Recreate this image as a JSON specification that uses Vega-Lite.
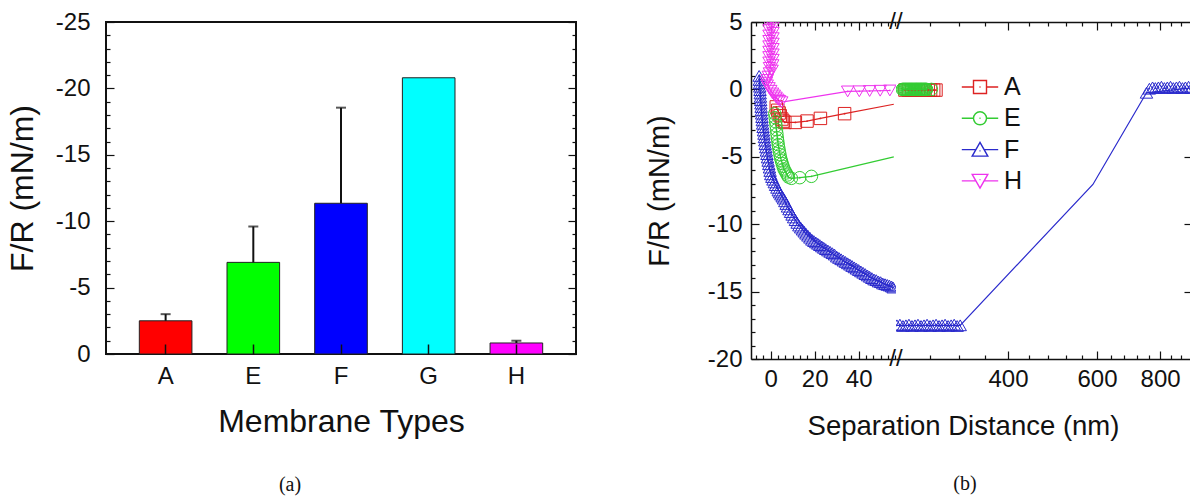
{
"$schema":"https://vega.github.io/schema/vega-lite/v6.json",
"background":"white",
"padding":{"left":5,"top":9,"right":0,"bottom":0},
"config":{
 "font":"Liberation Sans",
 "axis":{"labelFont":"Liberation Sans","titleFont":"Liberation Sans","labelColor":"#111","titleColor":"#111","tickColor":"#111","domainColor":"#111","titleFontWeight":"normal","grid":false,"tickWidth":1.2,"domainWidth":1.5,"labelOverlap":false},
 "legend":{"labelFont":"Liberation Sans"}
},
"datasets":{
 "membranes":[
  {"membrane":"A","force":-2.5,"errEnd":-3.0},
  {"membrane":"E","force":-6.9,"errEnd":-9.6},
  {"membrane":"F","force":-11.35,"errEnd":-18.55},
  {"membrane":"G","force":-20.8,"errEnd":null},
  {"membrane":"H","force":-0.83,"errEnd":-1.0}
 ],
 "curve":[
  {"series":"F","nm":-5.3,"force":1.0},{"series":"F","nm":-4.6,"force":-0.8},{"series":"F","nm":-3.85,"force":-2.3},{"series":"F","nm":-2.7,"force":-3.8},{"series":"F","nm":-1.5,"force":-5.05},{"series":"F","nm":0.0,"force":-6.3},{"series":"F","nm":2.2,"force":-7.1},{"series":"F","nm":5.2,"force":-7.95},{"series":"F","nm":8.3,"force":-8.9},{"series":"F","nm":12.0,"force":-9.9},{"series":"F","nm":16.0,"force":-10.7},{"series":"F","nm":20.5,"force":-11.35},{"series":"F","nm":25.0,"force":-11.85},{"series":"F","nm":30.0,"force":-12.4},{"series":"F","nm":35.0,"force":-12.9},{"series":"F","nm":40.0,"force":-13.4},{"series":"F","nm":45.0,"force":-13.9},{"series":"F","nm":50.0,"force":-14.3},{"series":"F","nm":55.7,"force":-14.7},{"series":"F","nm":241,"force":-17.5},{"series":"F","nm":321.6,"force":-17.5},{"series":"F","nm":589,"force":-7.05},{"series":"F","nm":752,"force":-0.25},{"series":"F","nm":923,"force":0.1},
  {"series":"A","nm":2.5,"force":-1.3},{"series":"A","nm":3.8,"force":-1.75},{"series":"A","nm":5.0,"force":-2.2},{"series":"A","nm":6.4,"force":-2.45},{"series":"A","nm":11.2,"force":-2.45},{"series":"A","nm":16.5,"force":-2.35},{"series":"A","nm":22.6,"force":-2.15},{"series":"A","nm":33.6,"force":-1.8},{"series":"A","nm":56,"force":-1.1},{"series":"A","nm":250,"force":-0.05},{"series":"A","nm":288,"force":-0.05},
  {"series":"E","nm":1.8,"force":-1.8},{"series":"E","nm":2.6,"force":-3.0},{"series":"E","nm":3.4,"force":-4.1},{"series":"E","nm":4.5,"force":-5.1},{"series":"E","nm":6.0,"force":-5.9},{"series":"E","nm":8.0,"force":-6.5},{"series":"E","nm":9.4,"force":-6.6},{"series":"E","nm":13.2,"force":-6.55},{"series":"E","nm":18.5,"force":-6.45},{"series":"E","nm":56,"force":-5.0},{"series":"E","nm":247,"force":0.0},{"series":"E","nm":282,"force":0.0},
  {"series":"H","nm":0.3,"force":5.6},{"series":"H","nm":0.2,"force":3.5},{"series":"H","nm":0.0,"force":1.7},{"series":"H","nm":-1.1,"force":0.95},{"series":"H","nm":-2.0,"force":0.5},{"series":"H","nm":-0.8,"force":0.1},{"series":"H","nm":0.8,"force":-0.3},{"series":"H","nm":2.4,"force":-0.6},{"series":"H","nm":4.0,"force":-0.85},{"series":"H","nm":5.0,"force":-0.95},{"series":"H","nm":35.0,"force":-0.15},{"series":"H","nm":54.2,"force":-0.08}
 ],
 "symbols":[
  {"series":"F","nm":-5.3,"force":1.0},{"series":"F","nm":-5.2,"force":0.7},{"series":"F","nm":-5.1,"force":0.45},{"series":"F","nm":-5.0,"force":0.2},{"series":"F","nm":-4.9,"force":-0.05},{"series":"F","nm":-4.8,"force":-0.3},{"series":"F","nm":-4.7,"force":-0.55},{"series":"F","nm":-4.6,"force":-0.8},{"series":"F","nm":-4.5,"force":-1.05},{"series":"F","nm":-4.4,"force":-1.3},{"series":"F","nm":-4.3,"force":-1.55},{"series":"F","nm":-4.15,"force":-1.8},{"series":"F","nm":-4.0,"force":-2.05},{"series":"F","nm":-3.85,"force":-2.3},{"series":"F","nm":-3.7,"force":-2.55},{"series":"F","nm":-3.5,"force":-2.8},{"series":"F","nm":-3.3,"force":-3.05},{"series":"F","nm":-3.1,"force":-3.3},{"series":"F","nm":-2.9,"force":-3.55},{"series":"F","nm":-2.7,"force":-3.8},{"series":"F","nm":-2.5,"force":-4.05},{"series":"F","nm":-2.25,"force":-4.3},{"series":"F","nm":-2.0,"force":-4.55},{"series":"F","nm":-1.75,"force":-4.8},{"series":"F","nm":-1.5,"force":-5.05},{"series":"F","nm":-1.2,"force":-5.3},{"series":"F","nm":-0.9,"force":-5.55},{"series":"F","nm":-0.6,"force":-5.8},{"series":"F","nm":-0.3,"force":-6.05},{"series":"F","nm":0.0,"force":-6.3},
  {"series":"F","nm":0.5,"force":-6.5},{"series":"F","nm":1.0,"force":-6.7},{"series":"F","nm":1.6,"force":-6.9},{"series":"F","nm":2.2,"force":-7.1},{"series":"F","nm":2.8,"force":-7.3},{"series":"F","nm":3.4,"force":-7.5},{"series":"F","nm":4.0,"force":-7.65},{"series":"F","nm":4.6,"force":-7.8},{"series":"F","nm":5.2,"force":-7.95},{"series":"F","nm":5.8,"force":-8.1},{"series":"F","nm":6.4,"force":-8.3},{"series":"F","nm":7.0,"force":-8.5},{"series":"F","nm":7.6,"force":-8.7},{"series":"F","nm":8.3,"force":-8.9},{"series":"F","nm":9.0,"force":-9.1},{"series":"F","nm":9.7,"force":-9.3},{"series":"F","nm":10.4,"force":-9.5},{"series":"F","nm":11.2,"force":-9.7},{"series":"F","nm":12.0,"force":-9.9},{"series":"F","nm":12.8,"force":-10.1},{"series":"F","nm":13.6,"force":-10.25},{"series":"F","nm":14.4,"force":-10.4},{"series":"F","nm":15.2,"force":-10.55},{"series":"F","nm":16.0,"force":-10.7},{"series":"F","nm":16.9,"force":-10.85},{"series":"F","nm":17.8,"force":-11.0},{"series":"F","nm":18.7,"force":-11.15},{"series":"F","nm":19.6,"force":-11.25},{"series":"F","nm":20.5,"force":-11.35},{"series":"F","nm":21.4,"force":-11.45},{"series":"F","nm":22.3,"force":-11.55},{"series":"F","nm":23.2,"force":-11.65},{"series":"F","nm":24.1,"force":-11.75},{"series":"F","nm":25.0,"force":-11.85},{"series":"F","nm":26.0,"force":-11.95},{"series":"F","nm":27.0,"force":-12.05},{"series":"F","nm":28.0,"force":-12.15},{"series":"F","nm":29.0,"force":-12.25},{"series":"F","nm":30.0,"force":-12.4},{"series":"F","nm":31.0,"force":-12.5},{"series":"F","nm":32.0,"force":-12.6},{"series":"F","nm":33.0,"force":-12.7},{"series":"F","nm":34.0,"force":-12.8},{"series":"F","nm":35.0,"force":-12.9},{"series":"F","nm":36.0,"force":-13.0},{"series":"F","nm":37.0,"force":-13.1},{"series":"F","nm":38.0,"force":-13.2},{"series":"F","nm":39.0,"force":-13.3},{"series":"F","nm":40.0,"force":-13.4},{"series":"F","nm":41.0,"force":-13.5},{"series":"F","nm":42.0,"force":-13.6},{"series":"F","nm":43.0,"force":-13.7},{"series":"F","nm":44.0,"force":-13.8},{"series":"F","nm":45.0,"force":-13.9},{"series":"F","nm":46.0,"force":-14.0},{"series":"F","nm":47.0,"force":-14.1},{"series":"F","nm":48.0,"force":-14.15},{"series":"F","nm":49.0,"force":-14.25},{"series":"F","nm":50.0,"force":-14.3},{"series":"F","nm":51.0,"force":-14.4},{"series":"F","nm":52.0,"force":-14.45},{"series":"F","nm":53.0,"force":-14.5},{"series":"F","nm":54.0,"force":-14.55},{"series":"F","nm":55.0,"force":-14.62},{"series":"F","nm":55.7,"force":-14.7},
  {"series":"F","nm":241,"force":-17.5},{"series":"F","nm":244.3,"force":-17.45},{"series":"F","nm":247.7,"force":-17.55},{"series":"F","nm":251.1,"force":-17.5},{"series":"F","nm":254.6,"force":-17.45},{"series":"F","nm":258.1,"force":-17.55},{"series":"F","nm":261.7,"force":-17.5},{"series":"F","nm":265.3,"force":-17.45},{"series":"F","nm":269.0,"force":-17.55},{"series":"F","nm":272.7,"force":-17.5},{"series":"F","nm":276.5,"force":-17.45},{"series":"F","nm":280.3,"force":-17.55},{"series":"F","nm":284.2,"force":-17.5},{"series":"F","nm":288.1,"force":-17.45},{"series":"F","nm":292.1,"force":-17.55},{"series":"F","nm":296.1,"force":-17.5},{"series":"F","nm":300.2,"force":-17.45},{"series":"F","nm":304.4,"force":-17.55},{"series":"F","nm":308.6,"force":-17.5},{"series":"F","nm":312.9,"force":-17.45},{"series":"F","nm":317.2,"force":-17.55},{"series":"F","nm":321.6,"force":-17.5},
  {"series":"F","nm":752,"force":-0.25},{"series":"F","nm":762,"force":0.05},{"series":"F","nm":773,"force":0.15},{"series":"F","nm":783,"force":0.1},{"series":"F","nm":794,"force":0.15},{"series":"F","nm":805,"force":0.2},{"series":"F","nm":816,"force":0.1},{"series":"F","nm":827,"force":0.15},{"series":"F","nm":839,"force":0.2},{"series":"F","nm":850,"force":0.1},{"series":"F","nm":862,"force":0.15},{"series":"F","nm":874,"force":0.2},{"series":"F","nm":886,"force":0.1},{"series":"F","nm":898,"force":0.15},{"series":"F","nm":911,"force":0.2},{"series":"F","nm":923,"force":0.1},
  {"series":"A","nm":2.5,"force":-1.3},{"series":"A","nm":3.2,"force":-1.55},{"series":"A","nm":3.8,"force":-1.75},{"series":"A","nm":4.3,"force":-1.95},{"series":"A","nm":5.0,"force":-2.2},{"series":"A","nm":5.6,"force":-2.35},{"series":"A","nm":6.4,"force":-2.45},{"series":"A","nm":11.2,"force":-2.45},{"series":"A","nm":16.5,"force":-2.35},{"series":"A","nm":22.6,"force":-2.15},{"series":"A","nm":33.6,"force":-1.8},
  {"series":"A","nm":250,"force":-0.05},{"series":"A","nm":254,"force":-0.05},{"series":"A","nm":258,"force":-0.05},{"series":"A","nm":262,"force":-0.05},{"series":"A","nm":266,"force":-0.05},{"series":"A","nm":270,"force":-0.05},{"series":"A","nm":274,"force":-0.05},{"series":"A","nm":278,"force":-0.05},{"series":"A","nm":281,"force":-0.05},{"series":"A","nm":285,"force":-0.05},{"series":"A","nm":288,"force":-0.05},
  {"series":"E","nm":1.8,"force":-1.8},{"series":"E","nm":2.0,"force":-2.1},{"series":"E","nm":2.2,"force":-2.4},{"series":"E","nm":2.4,"force":-2.7},{"series":"E","nm":2.6,"force":-3.0},{"series":"E","nm":2.8,"force":-3.3},{"series":"E","nm":3.0,"force":-3.6},{"series":"E","nm":3.2,"force":-3.85},{"series":"E","nm":3.4,"force":-4.1},{"series":"E","nm":3.65,"force":-4.35},{"series":"E","nm":3.9,"force":-4.6},{"series":"E","nm":4.2,"force":-4.85},{"series":"E","nm":4.5,"force":-5.1},{"series":"E","nm":4.85,"force":-5.3},{"series":"E","nm":5.2,"force":-5.5},{"series":"E","nm":5.6,"force":-5.7},{"series":"E","nm":6.0,"force":-5.9},{"series":"E","nm":6.5,"force":-6.05},{"series":"E","nm":7.0,"force":-6.2},{"series":"E","nm":7.5,"force":-6.35},{"series":"E","nm":8.0,"force":-6.5},{"series":"E","nm":9.4,"force":-6.6},{"series":"E","nm":13.2,"force":-6.55},{"series":"E","nm":18.5,"force":-6.45},
  {"series":"E","nm":247,"force":0.0},{"series":"E","nm":248,"force":0.0},{"series":"E","nm":249,"force":0.0},{"series":"E","nm":250,"force":0.0},{"series":"E","nm":251,"force":0.0},{"series":"E","nm":252,"force":0.0},{"series":"E","nm":253,"force":0.0},{"series":"E","nm":254,"force":0.0},{"series":"E","nm":255,"force":0.0},{"series":"E","nm":256,"force":0.0},{"series":"E","nm":257,"force":0.0},{"series":"E","nm":258,"force":0.0},{"series":"E","nm":259,"force":0.0},{"series":"E","nm":260,"force":0.0},{"series":"E","nm":261,"force":0.0},{"series":"E","nm":262,"force":0.0},{"series":"E","nm":263,"force":0.0},{"series":"E","nm":264,"force":0.0},{"series":"E","nm":265,"force":0.0},{"series":"E","nm":266,"force":0.0},{"series":"E","nm":267,"force":0.0},{"series":"E","nm":268,"force":0.0},{"series":"E","nm":269,"force":0.0},{"series":"E","nm":270,"force":0.0},{"series":"E","nm":271,"force":0.0},{"series":"E","nm":272,"force":0.0},{"series":"E","nm":273,"force":0.0},{"series":"E","nm":274,"force":0.0},{"series":"E","nm":275,"force":0.0},{"series":"E","nm":276,"force":0.0},{"series":"E","nm":282,"force":0.0},
  {"series":"H","nm":-0.8,"force":5.6},{"series":"H","nm":1.0,"force":5.4},{"series":"H","nm":-0.8,"force":5.2},{"series":"H","nm":1.0,"force":5.0},{"series":"H","nm":-0.8,"force":4.8},{"series":"H","nm":1.0,"force":4.6},{"series":"H","nm":-0.8,"force":4.4},{"series":"H","nm":1.0,"force":4.2},{"series":"H","nm":-0.8,"force":4.0},{"series":"H","nm":1.0,"force":3.8},{"series":"H","nm":-0.8,"force":3.6},{"series":"H","nm":1.0,"force":3.4},{"series":"H","nm":-0.8,"force":3.2},{"series":"H","nm":1.0,"force":3.0},{"series":"H","nm":-0.8,"force":2.8},{"series":"H","nm":1.0,"force":2.6},{"series":"H","nm":-0.8,"force":2.4},{"series":"H","nm":1.0,"force":2.2},{"series":"H","nm":-0.8,"force":2.0},{"series":"H","nm":0.9,"force":1.8},{"series":"H","nm":-0.6,"force":1.6},{"series":"H","nm":0.6,"force":1.4},{"series":"H","nm":-0.6,"force":1.2},{"series":"H","nm":-1.1,"force":0.95},{"series":"H","nm":-1.6,"force":0.7},{"series":"H","nm":-2.0,"force":0.5},{"series":"H","nm":-1.6,"force":0.3},{"series":"H","nm":-0.8,"force":0.1},{"series":"H","nm":0.0,"force":-0.1},{"series":"H","nm":0.8,"force":-0.3},{"series":"H","nm":1.6,"force":-0.45},{"series":"H","nm":2.4,"force":-0.6},{"series":"H","nm":3.2,"force":-0.75},{"series":"H","nm":4.0,"force":-0.85},{"series":"H","nm":5.0,"force":-0.95},
  {"series":"H","nm":35.0,"force":-0.15},{"series":"H","nm":40.3,"force":-0.14},{"series":"H","nm":45.0,"force":-0.12},{"series":"H","nm":49.8,"force":-0.1},{"series":"H","nm":54.2,"force":-0.08}
 ]
},
"resolve":{"scale":{"x":"independent","y":"independent","color":"independent","shape":"independent"}},
"spacing":67,
"hconcat":[
 {
  "width":470,"height":332,
  "view":{"stroke":"#111","strokeWidth":2},
  "title":{"text":"(a)","orient":"bottom","anchor":"middle","font":"Liberation Serif","fontSize":20,"fontWeight":"normal","color":"#111","dx":-51,"offset":38},
  "data":{"name":"membranes"},
  "encoding":{
   "x":{"field":"membrane","type":"nominal","sort":null,"scale":{"paddingInner":0.4,"paddingOuter":0.38},
    "axis":{"orient":"bottom","title":"Membrane Types","titleFontSize":32,"titlePadding":18,"labelAngle":0,"labelFontSize":24,"labelPadding":20,"tickSize":-10,"tickWidth":1.5,"domain":false,"zindex":1}}
  },
  "layer":[
   {"mark":{"type":"bar","stroke":"#222","strokeWidth":1},
    "encoding":{
     "y":{"field":"force","type":"quantitative","scale":{"domain":[-25,0],"reverse":true,"nice":false},
      "axis":{"orient":"left","values":[-25,-24,-23,-22,-21,-20,-19,-18,-17,-16,-15,-14,-13,-12,-11,-10,-9,-8,-7,-6,-5,-4,-3,-2,-1,0],
       "labelExpr":"datum.value % 5 === 0 ? '' + datum.value : ''",
       "tickSize":{"condition":{"test":"datum.value % 5 === 0","value":-8},"value":-4},
       "labelFontSize":24,"labelPadding":24,"domain":false,"title":"F/R (mN/m)","titleFontSize":32,"titlePadding":16}},
     "color":{"field":"membrane","type":"nominal","scale":{"domain":["A","E","F","G","H"],"range":["#ff0000","#00ff00","#0000ff","#00ffff","#ff00ff"]},"legend":null}
    }},
   {"transform":[{"filter":"datum.errEnd != null"}],
    "mark":{"type":"rule","color":"#111","strokeWidth":2},
    "encoding":{
     "y":{"field":"force","type":"quantitative","scale":{"domain":[-25,0],"reverse":true,"nice":false},
      "axis":{"orient":"right","values":[-25,-24,-23,-22,-21,-20,-19,-18,-17,-16,-15,-14,-13,-12,-11,-10,-9,-8,-7,-6,-5,-4,-3,-2,-1,0],
       "labels":false,"tickSize":{"condition":{"test":"datum.value % 5 === 0","value":-8},"value":-4},"domain":false,"title":null}},
     "y2":{"field":"errEnd"}
    }},
   {"transform":[{"filter":"datum.errEnd != null"}],
    "mark":{"type":"tick","orient":"horizontal","color":"#111","thickness":2,"size":10},
    "encoding":{"y":{"field":"errEnd","type":"quantitative","axis":null}}}
  ],
  "resolve":{"axis":{"y":"independent"}}
 },
 {
  "spacing":0,
  "bounds":"flush",
  "resolve":{"scale":{"x":"independent","y":"independent","color":"independent","shape":"independent"}},
  "hconcat":[
   {
    "width":145,"height":337,
    "view":{"stroke":null},
    "layer":[
     {"data":{"name":"curve"},"transform":[{"filter":"datum.nm < 100"}],
      "mark":{"type":"line","clip":true,"strokeWidth":1.2},
      "encoding":{
       "x":{"field":"nm","type":"quantitative","scale":{"domain":[-9,57],"nice":false,"zero":false},
        "axis":{"orient":"bottom","values":[-6.667,-3.333,0,3.333,6.667,10,13.333,16.667,20,23.333,26.667,30,33.333,36.667,40,43.333,46.667,50,53.333,56.667],
         "labelExpr":"datum.value % 20 === 0 ? '' + datum.value : ''",
         "tickSize":{"condition":{"test":"datum.value % 20 === 0","value":-8},"value":-4},
         "labelFontSize":24,"labelPadding":16,"title":null}},
       "y":{"field":"force","type":"quantitative","scale":{"domain":[-20,5],"nice":false},
        "axis":{"orient":"left","values":[-20,-19,-18,-17,-16,-15,-14,-13,-12,-11,-10,-9,-8,-7,-6,-5,-4,-3,-2,-1,0,1,2,3,4,5],
         "labelExpr":"datum.value % 5 === 0 ? '' + datum.value : ''",
         "tickSize":{"condition":{"test":"datum.value % 5 === 0","value":-8},"value":-4},
         "labelFontSize":24,"labelPadding":17,"title":"F/R (mN/m)","titleFontSize":29,"titlePadding":33}},
       "color":{"field":"series","type":"nominal","scale":{"domain":["A","E","F","H"],"range":["#dd2222","#33cc33","#2a2acc","#ee33ee"]},"legend":null},
       "order":{"value":null}
      }},
     {"data":{"name":"symbols"},"transform":[{"filter":"datum.nm < 100"}],
      "mark":{"type":"point","filled":false,"clip":true,"strokeWidth":1,"opacity":1,"size":155},
      "encoding":{
       "x":{"field":"nm","type":"quantitative","scale":{"domain":[-9,57],"nice":false,"zero":false},
        "axis":{"orient":"top","values":[-6.667,-3.333,0,3.333,6.667,10,13.333,16.667,20,23.333,26.667,30,33.333,36.667,40,43.333,46.667,50,53.333,56.667],
         "labels":false,"tickSize":{"condition":{"test":"datum.value % 20 === 0","value":-8},"value":-4},"title":null}},
       "y":{"field":"force","type":"quantitative","scale":{"domain":[-20,5],"nice":false},"axis":null},
       "color":{"field":"series","type":"nominal","scale":{"domain":["A","E","F","H"],"range":["#dd2222","#33cc33","#2a2acc","#ee33ee"]},"legend":null},
       "shape":{"field":"series","type":"nominal","scale":{"domain":["A","E","F","H"],"range":["square","circle","triangle-up","triangle-down"]},"legend":null}
      }},
     {"data":{"name":"symbols"},"transform":[{"filter":"datum.nm < 100"}],
      "mark":{"type":"point","filled":true,"clip":true,"opacity":1,"size":3},
      "encoding":{
       "x":{"field":"nm","type":"quantitative","scale":{"domain":[-9,57],"nice":false,"zero":false},"axis":null},
       "y":{"field":"force","type":"quantitative","scale":{"domain":[-20,5],"nice":false},"axis":null},
       "color":{"field":"series","type":"nominal","scale":{"domain":["A","E","F","H"],"range":["#dd2222","#33cc33","#2a2acc","#ee33ee"]},"legend":null}
      }},
     {"data":{"values":[{}]},
      "mark":{"type":"text","text":"//","font":"Liberation Sans","fontSize":24,"color":"#111","align":"center","baseline":"middle"},
      "encoding":{"x":{"datum":57,"type":"quantitative","axis":null},"y":{"datum":5,"type":"quantitative","axis":null}}},
     {"data":{"values":[{}]},
      "mark":{"type":"text","text":"//","font":"Liberation Sans","fontSize":24,"color":"#111","align":"center","baseline":"middle"},
      "encoding":{"x":{"datum":57,"type":"quantitative","axis":null},"y":{"datum":-20,"type":"quantitative","axis":null}}}
    ],
    "resolve":{"axis":{"x":"independent","y":"independent"}}
   },
   {
    "width":294,"height":337,
    "view":{"stroke":null},
    "title":{"text":"(b)","orient":"bottom","anchor":"middle","font":"Liberation Serif","fontSize":20,"fontWeight":"normal","color":"#111","dx":-78,"offset":34},
    "layer":[
     {"data":{"name":"curve"},"transform":[{"filter":"datum.nm > 100"}],
      "mark":{"type":"line","clip":true,"strokeWidth":1.2},
      "encoding":{
       "x":{"field":"nm","type":"quantitative","scale":{"type":"log","domain":[240,917],"nice":false},
        "axis":{"orient":"bottom","values":[280,320,360,400,440,480,520,560,600,640,680,720,760,800,840,880],
         "labelExpr":"datum.value % 200 === 0 ? '' + datum.value : ''",
         "tickSize":{"condition":{"test":"datum.value % 200 === 0","value":-8},"value":-4},
         "labelFontSize":24,"labelPadding":16,"title":"Separation Distance (nm)","titleFontSize":27.5,"titleX":67,"titlePadding":17}},
       "y":{"field":"force","type":"quantitative","scale":{"domain":[-20,5],"nice":false},
        "axis":{"orient":"right","values":[-15,-10,-5],"labels":false,"tickSize":-6,"domain":false,"title":null}},
       "color":{"field":"series","type":"nominal","scale":{"domain":["A","E","F","H"],"range":["#dd2222","#33cc33","#2a2acc","#ee33ee"]},"legend":null},
       "order":{"value":null}
      }},
     {"data":{"name":"symbols"},"transform":[{"filter":"datum.nm > 100"}],
      "mark":{"type":"point","filled":false,"clip":true,"strokeWidth":1,"opacity":1,"size":155},
      "encoding":{
       "x":{"field":"nm","type":"quantitative","scale":{"type":"log","domain":[240,917],"nice":false},
        "axis":{"orient":"top","values":[280,320,360,400,440,480,520,560,600,640,680,720,760,800,840,880],
         "labels":false,"tickSize":{"condition":{"test":"datum.value % 200 === 0","value":-8},"value":-4},"title":null}},
       "y":{"field":"force","type":"quantitative","scale":{"domain":[-20,5],"nice":false},"axis":null},
       "color":{"field":"series","type":"nominal","scale":{"domain":["A","E","F","H"],"range":["#dd2222","#33cc33","#2a2acc","#ee33ee"]},"legend":null},
       "shape":{"field":"series","type":"nominal","scale":{"domain":["A","E","F","H"],"range":["square","circle","triangle-up","triangle-down"]},"legend":null}
      }},
     {"data":{"name":"symbols"},"transform":[{"filter":"datum.nm > 100"}],
      "mark":{"type":"point","filled":true,"clip":true,"opacity":1,"size":3},
      "encoding":{
       "x":{"field":"nm","type":"quantitative","scale":{"type":"log","domain":[240,917],"nice":false},"axis":null},
       "y":{"field":"force","type":"quantitative","scale":{"domain":[-20,5],"nice":false},"axis":null},
       "color":{"field":"series","type":"nominal","scale":{"domain":["A","E","F","H"],"range":["#dd2222","#33cc33","#2a2acc","#ee33ee"]},"legend":null}
      }},
     {"data":{"name":"symbols"},"transform":[{"filter":"datum.nm > 100000"}],
      "mark":{"type":"point","filled":false,"opacity":1},
      "encoding":{
       "x":{"field":"nm","type":"quantitative","scale":{"type":"log","domain":[240,917],"nice":false},"axis":null},
       "y":{"field":"force","type":"quantitative","scale":{"domain":[-20,5],"nice":false},"axis":null},
       "color":{"field":"series","type":"nominal","scale":{"domain":["A","E","F","H"],"range":["#dd2222","#33cc33","#2a2acc","#ee33ee"]},
        "legend":{"title":null,"orient":"none","legendX":70,"legendY":51,"padding":0,"labelFontSize":25,"labelColor":"#111","symbolSize":676,"symbolStrokeWidth":1.4,"labelOffset":10,"rowPadding":4.3}},
       "shape":{"field":"series","type":"nominal","scale":{"domain":["A","E","F","H"],"range":[
         "M-1.4,0H-0.5M0.5,0H1.4M-0.5,-0.5H0.5V0.5H-0.5ZM-0.04,0H0.04",
         "M-1.4,0H-0.5M0.5,0H1.4M0.5,0A0.5,0.5,0,1,1,-0.5,0A0.5,0.5,0,1,1,0.5,0ZM-0.04,0H0.04",
         "M-1.4,0H-0.3M0.3,0H1.4M0,-0.55L0.6,0.5H-0.6ZM-0.04,0.1H0.04",
         "M-1.4,0H-0.3M0.3,0H1.4M0,0.55L0.6,-0.5H-0.6ZM-0.04,-0.1H0.04"]},
        "legend":{"title":null,"orient":"none","legendX":70,"legendY":51,"padding":0,"labelFontSize":25,"labelColor":"#111","symbolSize":676,"symbolStrokeWidth":1.4,"labelOffset":10,"rowPadding":4.3}}
      }}
    ],
    "resolve":{"axis":{"x":"independent","y":"independent"},"scale":{"color":"independent","shape":"independent"}}
   }
  ]
 }
]
}
